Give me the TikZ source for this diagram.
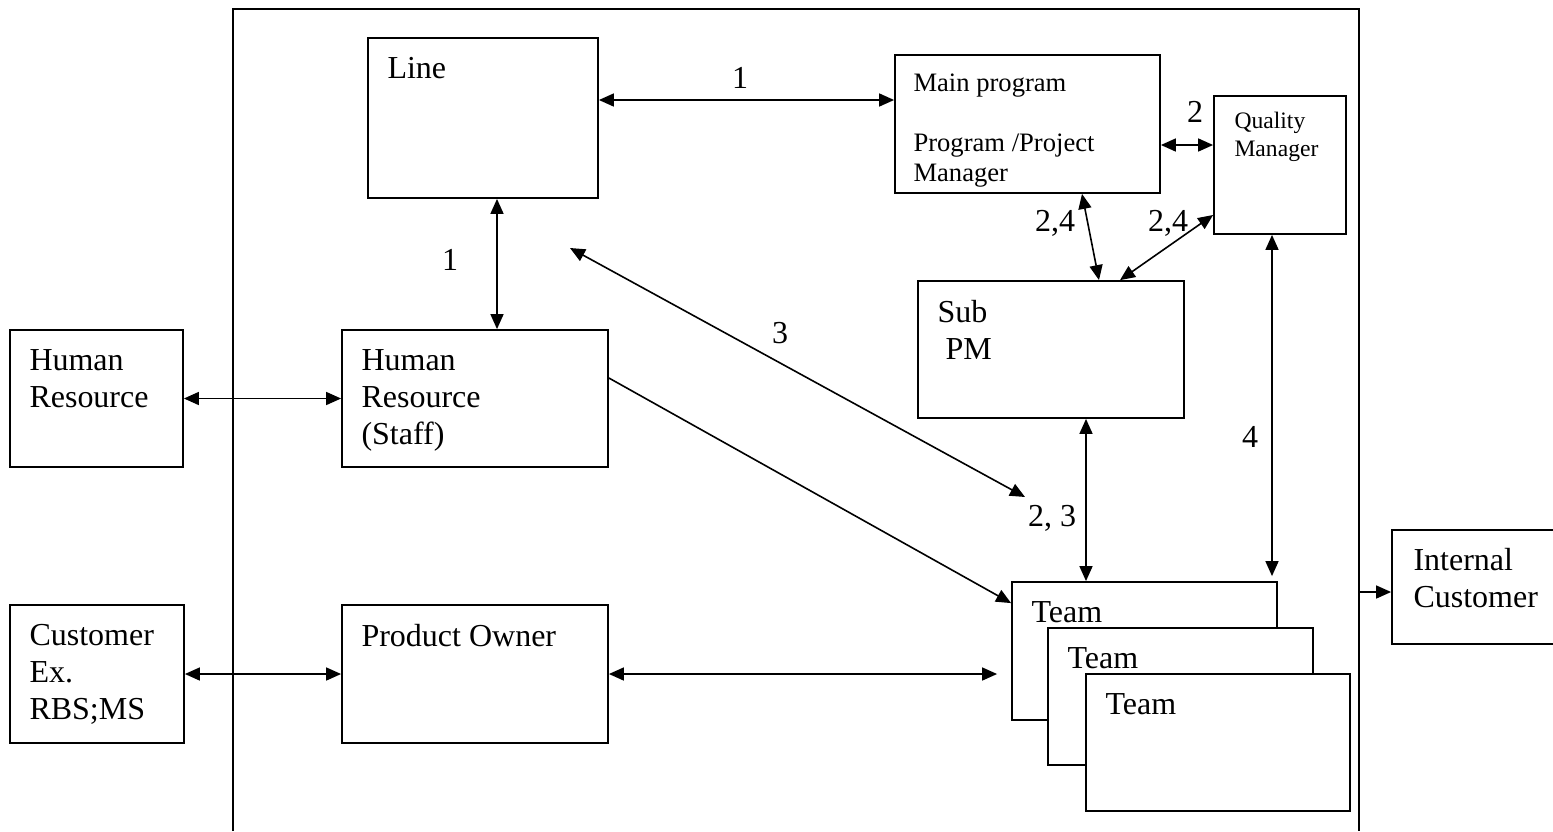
\documentclass[tikz,border=0pt]{standalone}
\usepackage{fontspec}
\setmainfont{Liberation Serif}
\usepackage{tikz}
\usetikzlibrary{arrows.meta, positioning, calc}

\newcommand{\txtbig}{\fontsize{16}{18.5}\selectfont}
\newcommand{\txtmid}{\fontsize{13.3}{15}\selectfont}
\newcommand{\txtsmall}{\fontsize{11.8}{14}\selectfont}

\begin{document}
\begin{tikzpicture}[
    x=0.5pt, y=-0.5pt,
    box/.style={rectangle, draw=black, fill=white, line width=0.9pt, inner sep=0pt},
    boxtext/.style={anchor=north west, inner sep=0pt, align=left, xshift=10pt, yshift=-10pt, font=\txtbig},
    num/.style={inner sep=1pt, font=\txtbig},
    arrow/.style={-{Triangle[length=7.5pt, width=6.5pt]}, line width=0.8pt},
    dblarrow/.style={{Triangle[length=7.5pt, width=6.5pt]}-{Triangle[length=7.5pt, width=6.5pt]}, line width=0.8pt},
    frame/.style={line width=0.8pt}
]
\useasboundingbox (0,0) rectangle (1553,831);

% Organisation frame (open at the bottom)
\draw[frame] (233,831) -- (233,9) -- (1359,9) -- (1359,831);

% Top row
\node[box, minimum width=115pt, minimum height=80pt,
      label={[boxtext]north west:Line}] (line) at (483,118) {};
\node[box, minimum width=132.5pt, minimum height=69pt,
      label={[boxtext, font=\txtmid, xshift=-0.5pt, yshift=0.5pt]north west:{Main program\\[15pt]Program /Project\\Manager}}] (main) at (1027.5,124) {};
\node[box, minimum width=66pt, minimum height=69pt,
      label={[boxtext, font=\txtsmall, xshift=0.5pt, yshift=1.5pt]north west:{Quality\\Manager}}] (qm) at (1280,165) {};

% Middle row
\node[box, minimum width=86.5pt, minimum height=68.5pt,
      label={[boxtext]north west:{Human\\Resource}}] (hrext) at (96.5,398.5) {};
\node[box, minimum width=133pt, minimum height=68.5pt,
      label={[boxtext]north west:{Human\\Resource\\(Staff)}}] (hrstaff) at (475,398.5) {};
\node[box, minimum width=133pt, minimum height=68.5pt,
      label={[boxtext]north west:{Sub\\\hspace*{4pt}PM}}] (sub) at (1051,349.5) {};

% Bottom row
\node[box, minimum width=87pt, minimum height=69pt,
      label={[boxtext]north west:{Customer\\Ex.\\RBS;MS}}] (cust) at (97,674) {};
\node[box, minimum width=133pt, minimum height=69pt,
      label={[boxtext]north west:Product Owner}] (po) at (475,674) {};
\node[box, minimum width=84pt, minimum height=57pt,
      label={[boxtext, xshift=1pt, yshift=0.5pt]north west:{Internal\\Customer}}] (intc) at (1476,587) {};

% Stacked teams
\node[box, minimum width=132.5pt, minimum height=69pt,
      label={[boxtext]north west:Team}] (team1) at (1144.5,651) {};
\node[box, minimum width=132.5pt, minimum height=68.5pt,
      label={[boxtext]north west:Team}] (team2) at (1180.5,696.5) {};
\node[box, minimum width=132pt, minimum height=68.5pt,
      label={[boxtext]north west:Team}] (team3) at (1218,742.5) {};

% Connections
\draw[dblarrow] ($(line.east)+(0,-18)$) -- ($(main.west)+(0,-24)$);
\draw[dblarrow] ($(main.east)+(0,21)$) -- ($(qm.west)+(0,-20)$);
\draw[dblarrow] ($(main.south)+(54.5,0)$) -- ($(sub.north)+(48,0)$);
\draw[dblarrow] ($(qm.west)+(0,50)$) -- ($(sub.north)+(69,0)$);
\draw[dblarrow] ($(line.south)+(14,0)$) -- ($(hrstaff.north)+(22,0)$);
\draw[dblarrow] (hrext.east) -- (hrstaff.west);
\draw[dblarrow] (cust.east) -- (po.west);
\draw[dblarrow, shorten >=7pt] (po.east) -- (team1.west |- po.east);
\draw[arrow] ($(hrstaff.east)+(0,-20.5)$) -- ($(team1.north west)+(0,22)$);

\coordinate (lineend) at (570,248);
\coordinate (teamend) at (1025,497);
\draw[dblarrow] (lineend) -- (teamend);

\coordinate (subteam) at ($(sub.south)+(35,0)$);
\draw[dblarrow] (subteam) -- (subteam |- team1.north);
\coordinate (qmteam) at ($(qm.south)+(-8,0)$);
\draw[dblarrow, shorten >=2.5pt] (qmteam) -- (qmteam |- team1.north);

\coordinate (frameout) at (1359,592);
\draw[arrow] (frameout) -- (frameout -| intc.west);

% Labels
\node[num] (n1a) at (740,78) {1};
\node[num] (n2) at (1195,112) {2};
\node[num] (n24a) at (1055,223) {2,4};
\node[num] (n24b) at (1168,223) {2,4};
\node[num] (n1b) at (450,260) {1};
\node[num] (n3) at (780,333) {3};
\node[num] (n23) at (1052,518) {2, 3};
\node[num] (n4) at (1250,437) {4};

\end{tikzpicture}
\end{document}
